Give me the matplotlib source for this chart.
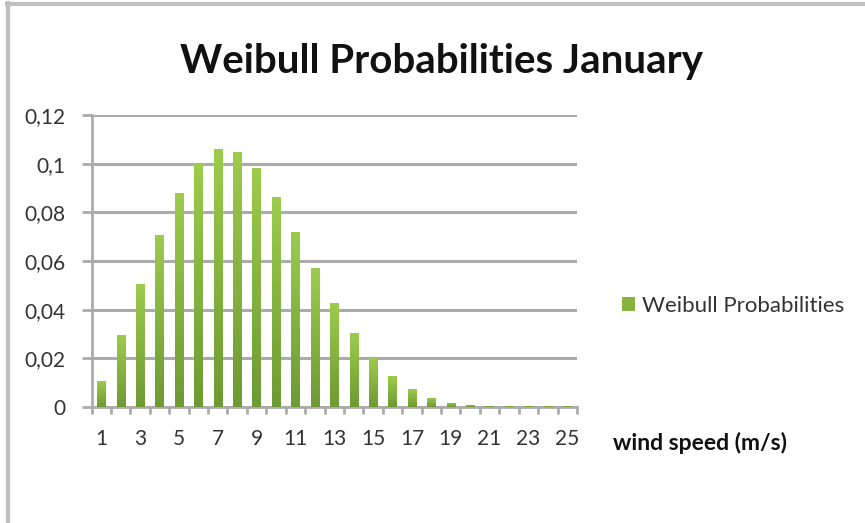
import numpy as np
import matplotlib
matplotlib.use("Agg")
import matplotlib.pyplot as plt
from matplotlib.colors import LinearSegmentedColormap
from matplotlib.patches import Rectangle
from matplotlib.ticker import FixedLocator, FuncFormatter

# Weibull probability per wind speed bin (m/s), January
speeds = list(range(1, 26))
probs = [0.0107, 0.0296, 0.0504, 0.0707, 0.0878, 0.0999, 0.1059, 0.1049,
         0.0981, 0.0864, 0.0720, 0.0570, 0.0426, 0.0303, 0.0200, 0.0127,
         0.0073, 0.0038, 0.0018, 0.0009, 0.0006, 0.0005, 0.0005, 0.0005,
         0.0005]
y_ticks = [0, 0.02, 0.04, 0.06, 0.08, 0.1, 0.12]
x_labels = [str(s) if s % 2 == 1 else "" for s in speeds]

FONT = "Lato"
GRID = "#ababab"
TEXT = "#333333"

fig = plt.figure(figsize=(8.65, 5.23), dpi=100)
ax = fig.add_axes([0.1058, 0.2218, 0.5612, 0.5583])

# bars drawn empty, then filled with a vertical gradient clipped to each bar
green = LinearSegmentedColormap.from_list("bar", ["#6e9a33", "#9dcb4c"])
grad = np.linspace(0, 1, 64).reshape(-1, 1)
bars = ax.bar(speeds, probs, width=0.42, color="none", edgecolor="none", zorder=3)
for b in bars:
    x0, y0 = b.get_x(), b.get_y()
    im = ax.imshow(grad, extent=[x0, x0 + b.get_width(), y0, y0 + b.get_height()],
                   origin="lower", aspect="auto", cmap=green, zorder=3,
                   interpolation="bilinear")
    im.set_clip_path(b)

ax.set_xlim(0.5, 25.5)
ax.set_ylim(0, 0.12)
ax.set_aspect("auto")

ax.yaxis.set_major_locator(FixedLocator(y_ticks))
ax.yaxis.set_major_formatter(FuncFormatter(
    lambda v, _: "0" if v == 0 else f"{v:g}".replace(".", ",")))
ax.grid(axis="y", color=GRID, linewidth=2.2, zorder=1)
ax.set_axisbelow(True)

# category labels on centres, tick marks on the boundaries
ax.set_xticks(speeds)
ax.set_xticklabels(x_labels)
ax.tick_params(axis="x", length=0, pad=16)
ax.set_xticks(np.arange(0.5, 26, 1), minor=True)
ax.tick_params(axis="x", which="minor", length=5, width=2, color=GRID, direction="out")
ax.tick_params(axis="y", length=7, width=2, color=GRID, direction="out", pad=12)

for lab in ax.get_xticklabels() + ax.get_yticklabels():
    lab.set_fontfamily(FONT)
    lab.set_fontsize(15)
    lab.set_color(TEXT)

for side in ("top", "right"):
    ax.spines[side].set_visible(False)
for side in ("left", "bottom"):
    ax.spines[side].set_color(GRID)
    ax.spines[side].set_linewidth(2)

fig.text(0.51, 0.882, "Weibull Probabilities January", ha="center", va="center",
         fontfamily=FONT, fontweight="bold", fontsize=29, color="#111111")
fig.text(0.709, 0.153, "wind speed (m/s)", ha="left", va="center",
         fontfamily=FONT, fontweight="bold", fontsize=16.5, color="#111111")

# legend
leg_handle = Rectangle((0, 0), 1, 1, facecolor="#85b540")
fig.legend([leg_handle], ["Weibull Probabilities"], loc="center left",
           bbox_to_anchor=(0.719, 0.415), frameon=False, handlelength=0.6,
           handleheight=0.6, handletextpad=0.3, borderpad=0, borderaxespad=0,
           prop={"family": FONT, "size": 16}, labelcolor=TEXT)

# chart frame (only top and left edges are in view)
fig.add_artist(plt.Line2D([0.0098, 0.0098], [0, 0.995], transform=fig.transFigure,
                          color="#c0c0c0", linewidth=3))
fig.add_artist(plt.Line2D([0.008, 1], [0.993, 0.993], transform=fig.transFigure,
                          color="#c0c0c0", linewidth=3))

fig.savefig("out.png", dpi=100)
